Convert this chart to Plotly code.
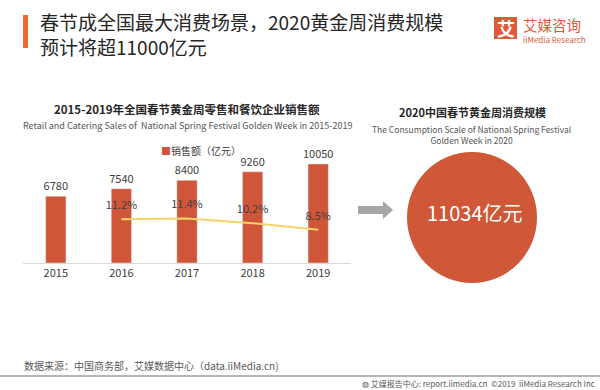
import plotly.graph_objects as go

# ---- data ----
years = ["2015", "2016", "2017", "2018", "2019"]
sales = [6780, 7540, 8400, 9260, 10050]
growth_years = ["2016", "2017", "2018", "2019"]
growth = [11.2, 11.4, 10.2, 8.5]
forecast_2020 = 11034

W, H = 600, 390
FONT = "Noto Sans CJK SC"
ORANGE = "#D0563A"
TXT = "#404040"


def px(x):
    return x / W


def py(y):
    return 1 - y / H


fig = go.Figure()

fig.add_trace(go.Bar(
    x=years, y=sales, marker_color=ORANGE, width=0.31,
    texttemplate="%{y:d}", textposition="outside", cliponaxis=False,
    constraintext="none",
    textfont=dict(size=11, color=TXT, family=FONT),
    name="销售额（亿元）", showlegend=False,
))

fig.add_trace(go.Scatter(
    x=growth_years, y=growth, yaxis="y2", mode="lines+markers+text",
    line=dict(color="#F6D46A", width=2),
    marker=dict(size=10, color="rgba(0,0,0,0)"),
    texttemplate="%{y:.1f}%", textposition="top center", cliponaxis=False,
    textfont=dict(size=11, color=TXT, family=FONT),
    showlegend=False,
))

ydom = [py(263), py(149.7)]
fig.update_layout(
    width=W, height=H, autosize=False,
    margin=dict(l=0, r=0, t=0, b=0),
    paper_bgcolor="white", plot_bgcolor="white",
    font=dict(family=FONT, color=TXT),
    xaxis=dict(domain=[px(23), px(351)], type="category", range=[-0.5, 4.5],
               showline=True, linecolor="#D9D9D9", linewidth=1,
               ticks="", showgrid=False, tickfont=dict(size=11, color=TXT, family=FONT)),
    yaxis=dict(domain=ydom, range=[0, 11500], visible=False, showgrid=False),
    yaxis2=dict(domain=ydom, range=[0, 29], overlaying="y", visible=False, showgrid=False),
    bargap=0.69,
)

ann = []


def txt(x, y, s, size, color=TXT, anchor="left", bold=False, align="left"):
    if bold:
        s = "<b>" + s + "</b>"
    ann.append(dict(x=px(x), y=py(y), xref="paper", yref="paper", text=s,
                    showarrow=False, xanchor=anchor, yanchor="middle", align=align,
                    font=dict(size=size, color=color, family=FONT)))


# page title
txt(38, 33.5, "春节成全国最大消费场景，2020黄金周消费规模<br>预计将超11000亿元", 19, "#262626")
# logo
txt(505.5, 28, "<b>艾</b>", 18, "white", anchor="center")
txt(521, 25, "艾媒咨询", 14.5, "#E05A3A")
txt(521, 40, "iiMedia Research", 8, "#E05A3A")

# left chart headings
txt(187, 109, "2015-2019年全国春节黄金周零售和餐饮企业销售额", 11.5, "#262626", anchor="center", bold=True)
txt(187, 126, "Retail and Catering Sales of  National Spring Festival Golden Week in 2015-2019", 9, "#555555", anchor="center")
# legend
txt(159, 150, "■", 10, ORANGE)
txt(169, 150, "销售额（亿元）", 10, TXT)

# right headings
txt(472, 112, "2020中国春节黄金周消费规模", 11, "#262626", anchor="center", bold=True)
txt(472, 134, "The Consumption Scale of National Spring Festival<br>Golden Week in 2020", 8.5, "#555555",
    anchor="center", align="center")
# circle value
txt(475, 213, f"{forecast_2020}亿元", 20, "white", anchor="center")

# footer
txt(22, 365, "数据来源：中国商务部，艾媒数据中心（data.iiMedia.cn)", 10, "#595959")
txt(597, 383, "◍ 艾媒报告中心: report.iimedia.cn  ©2019  iiMedia Research Inc", 8, "#595959", anchor="right")

fig.update_layout(annotations=ann)

shapes = [
    # title accent bar
    dict(type="rect", xref="paper", yref="paper", x0=px(23), x1=px(28), y0=py(48), y1=py(15),
         fillcolor="#EE6A35", line=dict(width=0)),
    # logo square
    dict(type="rect", xref="paper", yref="paper", x0=px(494), x1=px(517), y0=py(39), y1=py(17),
         fillcolor="#E05A3A", line=dict(width=0)),
    # circle
    dict(type="circle", xref="paper", yref="paper", x0=px(407), x1=px(537), y0=py(283), y1=py(152),
         fillcolor="#CF5838", line=dict(width=0), layer="below"),
    # footer separator
    dict(type="line", xref="paper", yref="paper", x0=0, x1=1, y0=py(376), y1=py(376),
         line=dict(color="#9E9E9E", width=1.5)),
]
pts = [(358, 206), (383, 206), (383, 201), (393, 210), (383, 219), (383, 214), (358, 214)]
path = "M " + " L ".join(f"{px(a):.4f},{py(b):.4f}" for a, b in pts) + " Z"
shapes.append(dict(type="path", xref="paper", yref="paper", path=path,
                   fillcolor="#A6A6A6", line=dict(width=0)))
fig.update_layout(shapes=shapes)

fig.write_html("out.html", config={"displayModeBar": False},
               post_script="document.body.style.margin='0px';document.body.style.overflow='hidden';")
